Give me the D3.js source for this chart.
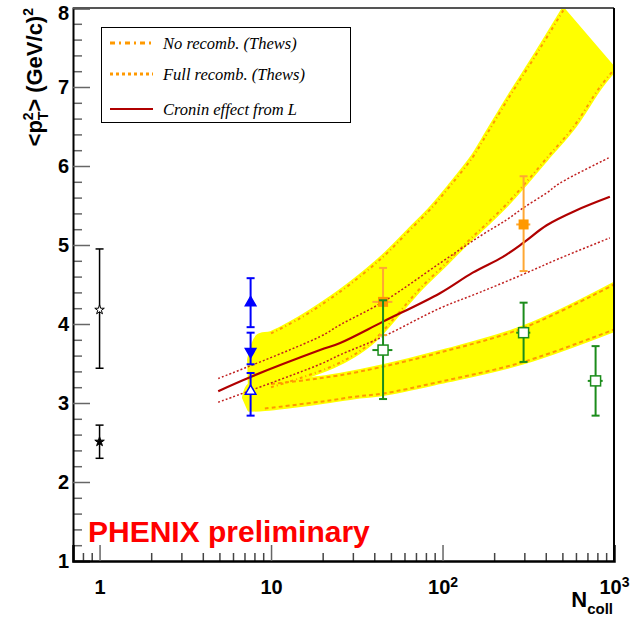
<!DOCTYPE html>
<html>
<head>
<meta charset="utf-8">
<script src="https://cdn.jsdelivr.net/npm/d3@7"></script>
<style>
  html, body { margin: 0; padding: 0; background: #fff; }
  svg { display: block; }
</style>
</head>
<body>
<svg id="chart" width="644" height="621"></svg>
<script>
// ---------------- DATA ----------------
const xTickValues = [1, 10, 100, 1000];
const xTickBase = ["1", "10", "10", "10"];
const xTickExp = ["", "", "2", "3"];
const xMinorTicks = [0.8, 0.9, 2, 3, 4, 5, 6, 7, 8, 9, 20, 30, 40, 50, 60, 70, 80, 90, 200, 300, 400, 500, 600, 700, 800, 900];
const yTickValues = [1, 2, 3, 4, 5, 6, 7, 8];

// black stars (N_coll = 1)
const starN = [1, 1];
const starVal = [4.18, 2.51];
const starLo = [3.44, 2.30];
const starHi = [4.95, 2.72];
const starOpen = [true, false];

// blue triangles
const blueN = [7.6, 7.6, 7.6];
const blueVal = [4.27, 3.65, 3.15];
const blueLo = [3.96, 3.49, 2.84];
const blueHi = [4.58, 3.89, 3.38];
const blueShape = ["up", "down", "upOpen"];

// green open squares
const greenN = [45, 297, 781];
const greenVal = [3.67, 3.89, 3.28];
const greenLo = [3.05, 3.52, 2.84];
const greenHi = [4.30, 4.27, 3.72];
const greenXerr = [6, 28, 78];

// orange filled squares
const orangeN = [45, 297];
const orangeVal = [4.28, 5.26];
const orangeLo = [3.86, 4.67];
const orangeHi = [4.71, 5.87];
const orangeXerr = [6, 28];

// Cronin effect from L (central + band)
const croninN = [4.92, 7.6, 19.3, 25.3, 45, 96.6, 150, 225, 297, 405, 605, 946];
const croninVal = [3.15, 3.33, 3.67, 3.76, 4.03, 4.39, 4.65, 4.85, 5.03, 5.25, 5.44, 5.61];
const croninUpN = [4.92, 19.3, 25.3, 45, 96.6, 165, 237, 296, 405, 481, 946];
const croninUpVal = [3.31, 3.84, 3.99, 4.28, 4.77, 5.11, 5.32, 5.47, 5.66, 5.78, 6.11];
const croninLoN = [4.92, 19.3, 25.3, 45, 96.6, 165, 296, 481, 946];
const croninLoVal = [3.01, 3.49, 3.61, 3.84, 4.20, 4.40, 4.63, 4.83, 5.09];

// No recomb. (Thews) band
const noRecUpperN = [7.5, 8.4, 10, 14.7, 20.5, 28.8, 45, 64.5, 84.7, 110, 151, 173, 246, 354, 506];
const noRecUpperVal = [3.55, 3.84, 3.88, 4.07, 4.27, 4.50, 4.85, 5.19, 5.45, 5.74, 6.12, 6.33, 6.88, 7.42, 7.97];
const noRecLowerN = [7.6, 10, 15, 23, 30, 40, 56, 74, 106, 138, 181, 237, 309, 405, 578, 828, 1000];
const noRecLowerVal = [3.12, 3.20, 3.32, 3.47, 3.60, 3.80, 4.15, 4.45, 4.78, 5.03, 5.27, 5.52, 5.80, 6.10, 6.49, 7.00, 7.22];

// Full recomb. (Thews) band
const fullRecUpperN = [7.0, 7.5, 10, 16, 25, 45, 97, 296, 1000];
const fullRecUpperVal = [3.07, 3.22, 3.24, 3.29, 3.35, 3.46, 3.64, 3.95, 4.50];
const fullRecLowerN = [7.5, 9.2, 20, 30.8, 45, 97, 296, 1000];
const fullRecLowerVal = [2.92, 2.93, 3.02, 3.08, 3.12, 3.27, 3.52, 3.93];

const legendLabels = ["No recomb. (Thews)", "Full recomb. (Thews)", "Cronin effect from L"];

// ---------------- LAYOUT ----------------
const pL = 73, pR = 614, pT = 8, pB = 561;
const svg = d3.select("#chart");
const x = d3.scaleLog().domain([0.7, 1000]).range([pL, pR]);
const y = d3.scaleLinear().domain([1, 8]).range([pB, pT]);

const SANS = "'Liberation Sans', Arial, Helvetica, sans-serif";
const SERIF = "'Liberation Serif', 'Times New Roman', serif";
const ORANGE = "#ff9900";
const ORANGE_BAR = "#ffa733";
const BLUE = "#0000ff";
const GREEN = "#1b8c1b";
const DARKRED = "#b00000";

svg.append("defs").append("clipPath").attr("id", "plotclip")
  .append("rect").attr("x", pL).attr("y", pT).attr("width", pR - pL).attr("height", pB - pT);

const plot = svg.append("g").attr("clip-path", "url(#plotclip)");

const zip = (ns, vs) => ns.map((n, i) => [n, vs[i]]);
const lineGen = d3.line().x(d => x(d[0])).y(d => y(d[1])).curve(d3.curveCatmullRom.alpha(0.5));

function bandPath(upper, lower) {
  const a = lineGen(upper);
  const b = lineGen(lower.slice().reverse());
  return a + "L" + b.slice(1) + "Z";
}

// bands
const noRecUpper = zip(noRecUpperN, noRecUpperVal);
const noRecLower = zip(noRecLowerN, noRecLowerVal);
const fullRecUpper = zip(fullRecUpperN, fullRecUpperVal);
const fullRecLower = zip(fullRecLowerN, fullRecLowerVal);

[[fullRecUpper, fullRecLower], [noRecUpper, noRecLower]].forEach(([u, l]) => {
  plot.append("path").attr("d", bandPath(u, l))
    .attr("fill", "#ffff00").attr("stroke", "#ffff00")
    .attr("stroke-width", 5).attr("stroke-linejoin", "round");
});

// band outlines
const edge = (pts) => pts.filter(d => d[0] >= 9);
[fullRecUpper, fullRecLower].forEach(pts => {
  plot.append("path").attr("d", lineGen(edge(pts)))
    .attr("fill", "none").attr("stroke", ORANGE).attr("stroke-width", 2)
    .attr("stroke-dasharray", "4,3");
});
[noRecUpper, noRecLower].forEach(pts => {
  plot.append("path").attr("d", lineGen(edge(pts)))
    .attr("fill", "none").attr("stroke", ORANGE).attr("stroke-width", 2)
    .attr("stroke-dasharray", "3,3,1,3");
});

// Cronin curves
plot.append("path").attr("d", lineGen(zip(croninUpN, croninUpVal)))
  .attr("fill", "none").attr("stroke", "#c02020").attr("stroke-width", 1.5).attr("stroke-dasharray", "2,2");
plot.append("path").attr("d", lineGen(zip(croninLoN, croninLoVal)))
  .attr("fill", "none").attr("stroke", "#c02020").attr("stroke-width", 1.5).attr("stroke-dasharray", "2,2");
plot.append("path").attr("d", lineGen(zip(croninN, croninVal)))
  .attr("fill", "none").attr("stroke", DARKRED).attr("stroke-width", 2.2);

// ---------------- AXES ----------------
const yMinor = d3.range(1, 8.001, 0.2).filter(v => Math.abs(v - Math.round(v)) > 1e-6);
svg.append("g").attr("transform", `translate(${pL},0)`)
  .call(d3.axisLeft(y).tickValues(yMinor).tickSize(-9).tickFormat(""))
  .call(g => g.select(".domain").remove())
  .call(g => g.selectAll(".tick line").attr("stroke", "#666").attr("stroke-width", 1.5));

const yAx = svg.append("g").attr("transform", `translate(${pL},0)`)
  .call(d3.axisLeft(y).tickValues(yTickValues).tickSize(-17).tickPadding(4).tickFormat(d3.format("d")));
yAx.select(".domain").attr("stroke", "#000").attr("stroke-width", 2);
yAx.selectAll(".tick line").attr("stroke", "#666").attr("stroke-width", 1.5);
yAx.selectAll(".tick text").attr("font-family", SANS).attr("font-weight", "bold")
  .attr("font-size", 20).attr("fill", "#000")
  .attr("dy", d => d === 8 ? "0.55em" : "0.32em");

svg.append("g").attr("transform", `translate(0,${pB})`)
  .call(d3.axisBottom(x).tickValues(xMinorTicks).tickSize(-8).tickFormat(""))
  .call(g => g.select(".domain").remove())
  .call(g => g.selectAll(".tick line").attr("stroke", "#444").attr("stroke-width", 1.5));

const xAx = svg.append("g").attr("transform", `translate(0,${pB})`)
  .call(d3.axisBottom(x).tickValues(xTickValues).tickSize(-16).tickPadding(19)
    .tickFormat((d, i) => xTickBase[i]));
xAx.select(".domain").attr("stroke", "#000").attr("stroke-width", 2.5);
xAx.selectAll(".tick line").attr("stroke", "#666").attr("stroke-width", 1.5);
xAx.selectAll(".tick text").attr("font-family", SANS).attr("font-weight", "bold")
  .attr("font-size", 20).attr("fill", "#000")
  .each(function(d, i) {
    if (xTickExp[i]) {
      d3.select(this).append("tspan").attr("font-size", 14).attr("dy", "-0.55em").text(xTickExp[i]);
    }
  });

// frame: top and right
svg.append("line").attr("x1", pL).attr("x2", pR).attr("y1", pT).attr("y2", pT)
  .attr("stroke", "#555").attr("stroke-width", 2);
svg.append("line").attr("x1", pR).attr("x2", pR).attr("y1", pT).attr("y2", pB)
  .attr("stroke", "#000").attr("stroke-width", 2);

// ---------------- POINTS ----------------
const pts = svg.append("g");
function errBar(n, v, lo, hi, color, width, cap, xerr) {
  const cx = x(n);
  pts.append("line").attr("x1", cx).attr("x2", cx).attr("y1", y(lo)).attr("y2", y(hi))
    .attr("stroke", color).attr("stroke-width", width);
  [lo, hi].forEach(e => {
    pts.append("line").attr("x1", cx - cap).attr("x2", cx + cap).attr("y1", y(e)).attr("y2", y(e))
      .attr("stroke", color).attr("stroke-width", width);
  });
  if (xerr) {
    pts.append("line").attr("x1", x(n - xerr)).attr("x2", x(n + xerr)).attr("y1", y(v)).attr("y2", y(v))
      .attr("stroke", color).attr("stroke-width", width);
  }
}

// black stars
starN.forEach((n, i) => {
  errBar(n, starVal[i], starLo[i], starHi[i], "#000", 1.5, 4);
  pts.append("path").attr("d", d3.symbol(d3.symbolStar, 28)())
    .attr("transform", `translate(${x(n)},${y(starVal[i])})`)
    .attr("fill", starOpen[i] ? "#fff" : "#000").attr("stroke", "#000").attr("stroke-width", 1);
});

// orange
orangeN.forEach((n, i) => {
  errBar(n, orangeVal[i], orangeLo[i], orangeHi[i], ORANGE_BAR, 2, 4, orangeXerr[i]);
  pts.append("rect").attr("x", x(n) - 5).attr("y", y(orangeVal[i]) - 5)
    .attr("width", 10).attr("height", 10).attr("fill", ORANGE);
});

// green
greenN.forEach((n, i) => {
  errBar(n, greenVal[i], greenLo[i], greenHi[i], GREEN, 2, 4, greenXerr[i]);
  pts.append("rect").attr("x", x(n) - 5).attr("y", y(greenVal[i]) - 5)
    .attr("width", 10).attr("height", 10).attr("fill", "#fff").attr("stroke", GREEN).attr("stroke-width", 1.5);
});

// blue
blueN.forEach((n, i) => {
  errBar(n, blueVal[i], blueLo[i], blueHi[i], BLUE, 2, 4);
  const sh = blueShape[i];
  const rot = sh === "down" ? 180 : 0;
  pts.append("path").attr("d", d3.symbol(d3.symbolTriangle, 48)())
    .attr("transform", `translate(${x(n)},${y(blueVal[i])}) rotate(${rot})`)
    .attr("fill", sh === "upOpen" ? "#fff" : BLUE)
    .attr("stroke", BLUE).attr("stroke-width", 1.5);
});

// ---------------- TEXT ----------------
const yt = svg.append("text").attr("transform", "translate(42,8) rotate(-90)")
  .attr("text-anchor", "end").attr("font-family", SANS).attr("font-weight", "bold")
  .attr("font-size", 22).attr("fill", "#000");
yt.append("tspan").text("<p");
yt.append("tspan").attr("font-size", 14).attr("dy", -9).text("2");
yt.append("tspan").attr("font-size", 14).attr("dx", -8).attr("dy", 15).text("T");
yt.append("tspan").attr("dy", -6).text(">");
yt.append("tspan").text(" (GeV/c)");
yt.append("tspan").attr("font-size", 14).attr("dy", -9).text("2");

const xt = svg.append("text").attr("x", 613).attr("y", 607).attr("text-anchor", "end")
  .attr("font-family", SANS).attr("font-weight", "bold").attr("font-size", 22).attr("fill", "#000");
xt.append("tspan").text("N");
xt.append("tspan").attr("font-size", 15).attr("dy", 7).text("coll");

svg.append("text").attr("x", 88).attr("y", 542)
  .attr("font-family", SANS).attr("font-weight", "bold").attr("font-size", 30)
  .attr("fill", "#ff0000").text("PHENIX preliminary");

// ---------------- LEGEND ----------------
const lg = svg.append("g");
lg.append("rect").attr("x", 101.5).attr("y", 27.5).attr("width", 249).attr("height", 95)
  .attr("fill", "#fff").attr("stroke", "#000").attr("stroke-width", 1);
const legendY = [43, 74, 109];
const legendStyle = [
  { stroke: ORANGE, w: 3, dash: "5,4,2,4" },
  { stroke: ORANGE, w: 3, dash: "3,3" },
  { stroke: DARKRED, w: 2, dash: null }
];
legendLabels.forEach((t, i) => {
  const s = legendStyle[i];
  lg.append("line").attr("x1", 110).attr("x2", 153).attr("y1", legendY[i]).attr("y2", legendY[i])
    .attr("stroke", s.stroke).attr("stroke-width", s.w).attr("stroke-dasharray", s.dash);
  lg.append("text").attr("x", 163).attr("y", legendY[i] + 5.5)
    .attr("font-family", SERIF).attr("font-style", "italic").attr("font-size", 16.5)
    .attr("fill", "#000").text(t);
});
</script>
</body>
</html>
